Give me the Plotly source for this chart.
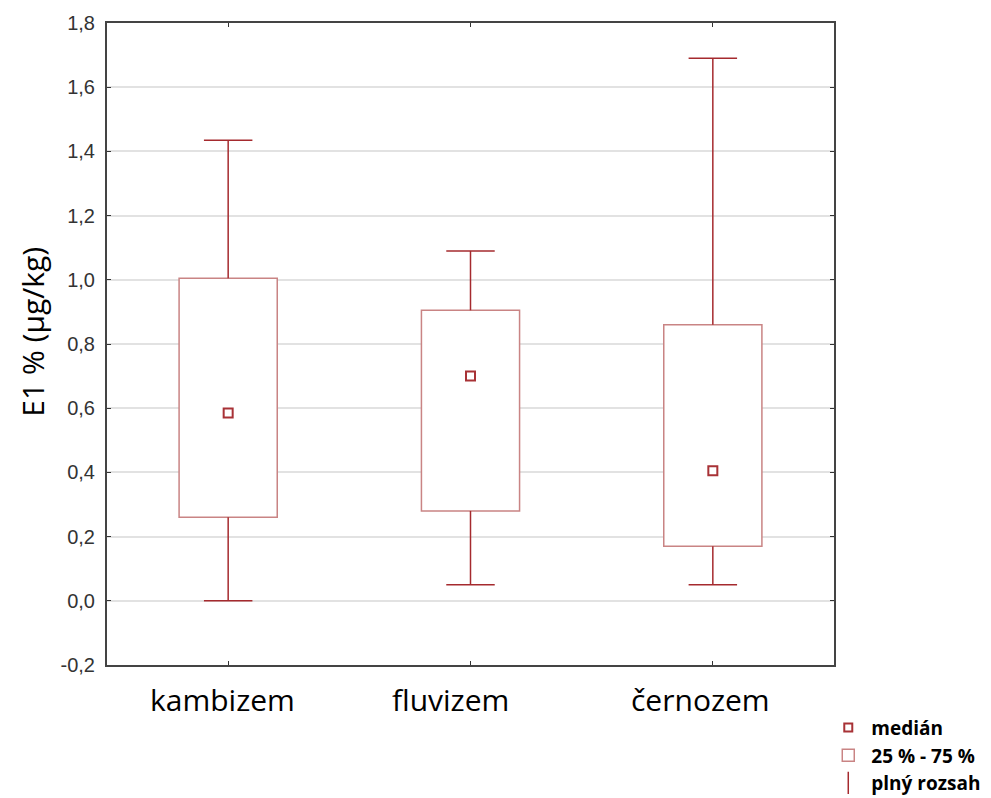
import plotly.graph_objects as go

# Data
categories = ["kambizem", "fluvizem", "černozem"]
minimum = [0.00, 0.05, 0.05]
q1 = [0.26, 0.28, 0.17]
median = [0.585, 0.70, 0.405]
q3 = [1.005, 0.905, 0.86]
maximum = [1.435, 1.09, 1.69]

y_ticks = [-0.2, 0.0, 0.2, 0.4, 0.6, 0.8, 1.0, 1.2, 1.4, 1.6, 1.8]
y_labels = ["-0,2", "0,0", "0,2", "0,4", "0,6", "0,8", "1,0", "1,2", "1,4", "1,6", "1,8"]

BOX_COLOR = "#c98484"
WHISKER_COLOR = "#a52a2e"
MEDIAN_COLOR = "#a83236"
CAP = 0.1
# category labels in the original sit slightly left of their ticks
LABEL_SHIFT = [-6, -20, -12]

xs = list(range(len(categories)))

# whisker lines (vertical parts plus caps), built from the data
wx, wy = [], []
for i in xs:
    wx += [i, i, None, i, i, None]
    wy += [q3[i], maximum[i], None, q1[i], minimum[i], None]
    wx += [i - CAP, i + CAP, None, i - CAP, i + CAP, None]
    wy += [maximum[i], maximum[i], None, minimum[i], minimum[i], None]

fig = go.Figure()

fig.add_trace(go.Scatter(
    x=[None], y=[None],
    mode="markers",
    marker=dict(symbol="square-open", size=8, color=MEDIAN_COLOR, line=dict(width=2)),
    name="medián",
))

fig.add_trace(go.Bar(
    x=xs,
    y=[q3[i] - q1[i] for i in xs],
    base=q1,
    width=0.405,
    marker=dict(color="white", line=dict(color=BOX_COLOR, width=1.5)),
    name="25 % - 75 %",
))

fig.add_trace(go.Scatter(
    x=wx, y=wy,
    mode="lines",
    line=dict(color=WHISKER_COLOR, width=1.5),
    showlegend=False,
    hoverinfo="skip",
))

fig.add_trace(go.Scatter(
    x=[None], y=[None],
    mode="markers",
    marker=dict(symbol="line-ns-open", size=20, color=WHISKER_COLOR, line=dict(width=1.5, color=WHISKER_COLOR)),
    name="plný rozsah",
))

fig.add_trace(go.Scatter(
    x=xs, y=median,
    mode="markers",
    marker=dict(symbol="square-open", size=9, color=MEDIAN_COLOR, line=dict(width=2)),
    showlegend=False,
))

annotations = [dict(
    text="E1 % (µg/kg)", textangle=-90,
    xref="paper", yref="paper", x=-0.102, y=0.519,
    xanchor="center", yanchor="middle", showarrow=False,
    font=dict(family="Open Sans", size=30, color="black"),
)]
for i, name in enumerate(categories):
    annotations.append(dict(
        text=name, x=i, y=0, xref="x", yref="paper",
        xanchor="center", yanchor="top", xshift=LABEL_SHIFT[i], yshift=-12,
        showarrow=False,
        font=dict(family="Open Sans", size=30, color="black"),
    ))

# page body has an 8px margin, so the margins are reduced by that amount
fig.update_layout(
    width=991,
    height=798,
    plot_bgcolor="white",
    paper_bgcolor="white",
    margin=dict(l=99, r=165, t=15, b=141, autoexpand=False),
    font=dict(family="Liberation Sans", color="#333333"),
    showlegend=True,
    legend=dict(
        x=0.988, y=-0.068, xanchor="left", yanchor="top",
        font=dict(family="Open Sans", size=19, color="black", weight="bold"),
        tracegroupgap=0, itemwidth=36,
        bgcolor="rgba(0,0,0,0)",
    ),
    annotations=annotations,
)

fig.update_xaxes(
    range=[-0.5, 2.5],
    tickvals=xs,
    ticktext=["", "", ""],
    showgrid=False,
    showline=True, linecolor="#444444", linewidth=2, mirror="ticks",
    ticks="inside", ticklen=4, tickcolor="#333333",
    zeroline=False, automargin=False,
)

fig.update_yaxes(
    range=[-0.2, 1.8],
    tickvals=y_ticks,
    ticktext=y_labels,
    tickfont=dict(family="Liberation Sans", size=20, color="#333333"),
    ticklabelstandoff=6,
    showgrid=True, gridcolor="#e2e2e2", gridwidth=2,
    showline=True, linecolor="#444444", linewidth=2, mirror="ticks",
    ticks="inside", ticklen=4, tickcolor="#333333",
    zeroline=False, automargin=False,
)

fig.write_html("out.html")
